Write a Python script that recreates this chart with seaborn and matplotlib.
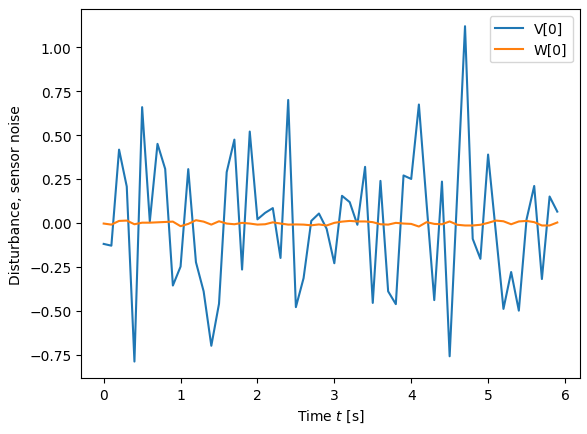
import numpy as np
import pandas as pd
import seaborn as sns
import matplotlib
matplotlib.use("Agg")
import matplotlib.pyplot as plt

# time points (s)
t = np.round(np.arange(60) * 0.1, 1)

# disturbance V[0]
v0 = [-0.12, -0.13, 0.417, 0.207, -0.79, 0.659, 0.008, 0.45, 0.307, -0.357,
      -0.249, 0.306, -0.224, -0.39, -0.70, -0.461, 0.289, 0.474, -0.266, 0.52,
      0.02, 0.057, 0.084, -0.20, 0.70, -0.48, -0.315, 0.011, 0.053, -0.034,
      -0.23, 0.154, 0.118, -0.011, 0.319, -0.456, 0.239, -0.39, -0.463, 0.27,
      0.25, 0.674, 0.11, -0.44, 0.235, -0.76, 0.18, 1.12, -0.091, -0.205,
      0.389, -0.05, -0.49, -0.28, -0.50, 0.019, 0.21, -0.32, 0.15, 0.064]

# sensor noise W[0]
w0 = [-0.004, -0.01, 0.011, 0.013, -0.008, 0.001, 0.001, 0.003, 0.005, 0.007,
      -0.019, -0.006, 0.015, 0.007, -0.01, 0.009, -0.004, -0.008, 0.0, -0.004,
      -0.01, -0.008, 0.003, -0.004, -0.01, -0.009, -0.01, -0.014, -0.009, -0.015,
      0.0, 0.007, 0.011, 0.008, 0.008, 0.004, -0.008, -0.01, 0.0, -0.004,
      -0.006, -0.021, 0.004, -0.006, -0.008, 0.008, -0.011, -0.015, -0.015, -0.011,
      0.0, 0.013, 0.009, -0.008, 0.008, 0.011, 0.004, -0.015, -0.015, 0.002]

df = pd.DataFrame({"t": t, "V[0]": v0, "W[0]": w0})
long = df.melt(id_vars="t", var_name="signal", value_name="value")

fig, ax = plt.subplots(figsize=(5.87, 4.35), dpi=100)
fig.subplots_adjust(left=0.138, right=0.988, top=0.976, bottom=0.128)

sns.lineplot(data=long, x="t", y="value", hue="signal",
             palette=["tab:blue", "tab:orange"], ax=ax)

ax.set_xlabel("Time $t$ [s]")
ax.set_ylabel("Disturbance, sensor noise")
ax.legend(loc="upper right")

fig.savefig("out.png", dpi=100)
